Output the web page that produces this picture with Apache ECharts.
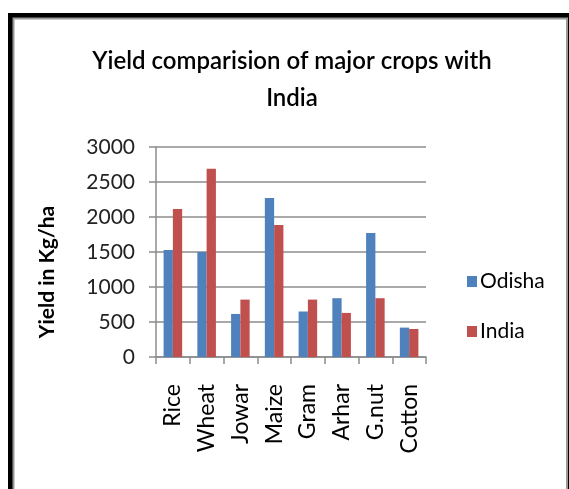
<!DOCTYPE html>
<html>
<head>
<meta charset="utf-8">
<script src="https://cdn.jsdelivr.net/npm/echarts@6/dist/echarts.min.js"></script>
<style>
  html, body { margin: 0; padding: 0; background: #fff; }
  #chart { width: 569px; height: 489px; }
</style>
</head>
<body>
<div id="chart"></div>
<script>
// Crop yields (Kg/ha), Odisha against the all-India average
var crops = ['Rice', 'Wheat', 'Jowar', 'Maize', 'Gram', 'Arhar', 'G.nut', 'Cotton'];
var odisha = [1530, 1500, 615, 2270, 650, 840, 1770, 420];
var india = [2115, 2690, 820, 1885, 820, 630, 840, 400];
var yTicks = [0, 500, 1000, 1500, 2000, 2500, 3000];

var FONT = 'Lato, "Open Sans", sans-serif';
var chart = echarts.init(document.getElementById('chart'), null, { renderer: 'canvas' });

chart.setOption({
  backgroundColor: '#fff',
  animation: false,
  graphic: [
    // heavy black frame on the top and left, thin grey inner border
    { type: 'rect', z: -10, silent: true,
      shape: { x: 8, y: 13, width: 600, height: 600 },
      style: { fill: '#000' } },
    { type: 'rect', z: -9, silent: true,
      shape: { x: 13.5, y: 18.5, width: 553.5, height: 600 },
      style: { fill: '#fff', stroke: '#9a9a9a', lineWidth: 2 } },
    // two-line chart title
    { type: 'text', z: 10, x: 292, y: 61,
      style: { text: 'Yield comparision of major crops with', align: 'center', verticalAlign: 'middle',
        font: '600 24px ' + FONT, fill: '#000' } },
    { type: 'text', z: 10, x: 292, y: 98,
      style: { text: 'India', align: 'center', verticalAlign: 'middle',
        font: '600 24px ' + FONT, fill: '#000' } },
    // value axis title
    { type: 'text', z: 10, x: 47, y: 272, rotation: Math.PI / 2,
      style: { text: 'Yield in Kg/ha', align: 'center', verticalAlign: 'middle',
        font: 'bold 21px ' + FONT, fill: '#000' } }
  ],
  legend: {
    orient: 'vertical',
    left: 462,
    top: 266,
    icon: 'rect',
    itemWidth: 10,
    itemHeight: 11,
    itemGap: 29,
    textStyle: { fontFamily: FONT, fontSize: 21, color: '#000', padding: [0, 0, 0, -2] },
    data: ['Odisha', 'India']
  },
  grid: { left: 156, right: 143, top: 147, bottom: 132, containLabel: false },
  xAxis: {
    type: 'category',
    data: crops,
    boundaryGap: true,
    axisLine: { show: true, lineStyle: { color: '#8c8c8c', width: 1.5 } },
    axisTick: { show: true, length: 7, lineStyle: { color: '#8c8c8c', width: 1.5 } },
    axisLabel: { rotate: 90, margin: 27, fontFamily: FONT, fontSize: 23, color: '#000', interval: 0 }
  },
  yAxis: {
    type: 'value',
    min: 0, max: 3000, interval: 500,
    axisLine: { show: true, lineStyle: { color: '#8c8c8c', width: 1.5 } },
    axisTick: { show: true, length: 7, lineStyle: { color: '#8c8c8c', width: 1.5 } },
    splitLine: { show: true, lineStyle: { color: '#8c8c8c', width: 1.5 } },
    axisLabel: {
      margin: 21, fontFamily: FONT, fontSize: 21, color: '#222',
      formatter: function (v) { return yTicks.indexOf(v) >= 0 ? String(v) : ''; }
    }
  },
  series: [
    { name: 'Odisha', type: 'bar', data: odisha, barGap: '0%', barCategoryGap: '45%',
      itemStyle: { color: '#4F81BD' } },
    { name: 'India', type: 'bar', data: india, barGap: '0%', barCategoryGap: '45%',
      itemStyle: { color: '#C0504D' } }
  ]
});
</script>
</body>
</html>
